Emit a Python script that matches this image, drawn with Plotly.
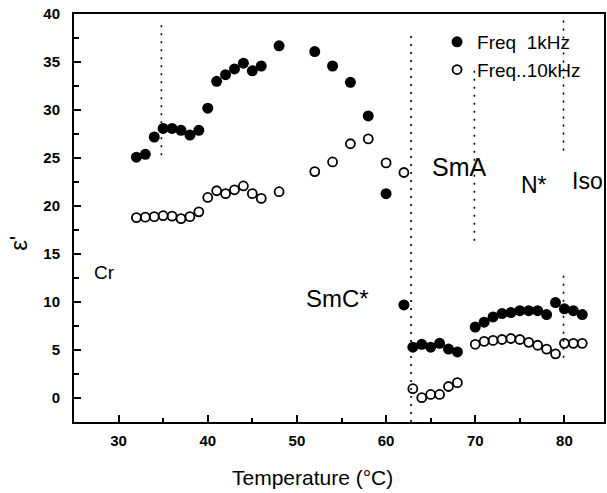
import plotly.graph_objects as go

# ---- data ----
temp_1k = [32, 33, 34, 35, 36, 37, 38, 39, 40, 41, 42, 43, 44, 45, 46, 48, 52, 54, 56, 58, 60, 62,
           63, 64, 65, 66, 67, 68, 70, 71, 72, 73, 74, 75, 76, 77, 78, 79, 80, 81, 82]
eps_1k = [25.1, 25.4, 27.2, 28.1, 28.1, 27.9, 27.4, 27.9, 30.2, 33.0, 33.7, 34.3, 34.9, 34.1, 34.6,
          36.7, 36.1, 34.6, 32.9, 29.4, 21.3, 9.7,
          5.3, 5.6, 5.3, 5.7, 5.1, 4.8, 7.4, 7.9, 8.45, 8.8, 8.9, 9.1, 9.1, 9.1, 8.7, 9.95, 9.3, 9.1, 8.7]

temp_10k = [32, 33, 34, 35, 36, 37, 38, 39, 40, 41, 42, 43, 44, 45, 46, 48, 52, 54, 56, 58, 60, 62,
            63, 64, 65, 66, 67, 68, 70, 71, 72, 73, 74, 75, 76, 77, 78, 79, 80, 81, 82]
eps_10k = [18.8, 18.85, 18.9, 19.0, 18.95, 18.7, 18.9, 19.4, 20.9, 21.6, 21.3, 21.7, 22.1, 21.3, 20.8,
           21.5, 23.6, 24.6, 26.5, 27.0, 24.5, 23.5,
           0.97, 0.03, 0.37, 0.37, 1.2, 1.6, 5.6, 5.9, 6.0, 6.1, 6.2, 6.1, 5.8, 5.5, 5.1, 4.6, 5.7, 5.7, 5.7]

series_names = ["Freq  1kHz", "Freq..10kHz"]

phase_labels = ["Cr", "SmC*", "SmA", "N*"]
phase_label_x = [28.4, 54.6, 68.2, 76.6]
phase_label_y = [13.1, 10.4, 24.1, 22.2]
phase_label_size = [19, 24, 25, 23]
iso_label = "Iso"

# phase boundaries (temperature, y from, y to)
boundary_t = [34.8, 62.8, 69.9, 79.9, 79.9]
boundary_y0 = [25.3, -2.5, 16.4, 25.8, 4.2]
boundary_y1 = [39.4, 38.0, 34.5, 39.4, 12.8]

x_ticks = [30, 40, 50, 60, 70, 80]
y_ticks = [0, 5, 10, 15, 20, 25, 30, 35, 40]

FONT = "Liberation Sans, Arial, sans-serif"

fig = go.Figure()
fig.add_trace(go.Scatter(
    x=temp_1k, y=eps_1k, mode="markers", name=series_names[0],
    marker=dict(symbol="circle", size=11, color="black", line=dict(width=0)),
))
fig.add_trace(go.Scatter(
    x=temp_10k, y=eps_10k, mode="markers", name=series_names[1],
    marker=dict(symbol="circle-open", size=9, color="black", line=dict(width=1.8, color="black")),
))

for t, a, b in zip(boundary_t, boundary_y0, boundary_y1):
    fig.add_shape(type="line", xref="x", yref="y", x0=t, x1=t, y0=a, y1=b,
                  line=dict(color="black", width=1.6, dash="2px,6px"), layer="below")

for txt, lx, ly, sz in zip(phase_labels, phase_label_x, phase_label_y, phase_label_size):
    fig.add_annotation(x=lx, y=ly, xref="x", yref="y", text=txt, showarrow=False,
                       font=dict(family=FONT, size=sz, color="black"))
fig.add_annotation(x=1.0, y=22.6, xref="paper", yref="y", text=iso_label, showarrow=False,
                   xanchor="right", xshift=1,
                   font=dict(family=FONT, size=23, color="black"))

# axis titles
fig.add_annotation(x=51.7, y=-0.135, xref="x", yref="paper", yanchor="middle",
                   text="Temperature (°C)",
                   showarrow=False, font=dict(family=FONT, size=21, color="black"))
fig.add_annotation(x=-0.105, y=16.1, xref="paper", yref="y", xanchor="center", yanchor="middle",
                   text="ε'", textangle=-90,
                   showarrow=False, font=dict(family=FONT, size=24, color="black"))

axis_common = dict(
    showgrid=False, zeroline=False, showline=True, linecolor="black", linewidth=2,
    mirror=True, ticks="inside", tickcolor="black", tickwidth=1.6, ticklen=7,
    tickfont=dict(family=FONT, size=15, color="black", weight="bold"),
    tickmode="linear",
)

fig.update_xaxes(range=[25, 84.44], tick0=x_ticks[0], dtick=x_ticks[1] - x_ticks[0],
                 ticklabelstandoff=4,
                 minor=dict(dtick=5, tick0=25, ticks="inside", ticklen=4, tickwidth=1.5, tickcolor="black"),
                 **axis_common)
fig.update_yaxes(range=[-2.5, 40.02], tick0=y_ticks[0], dtick=y_ticks[1] - y_ticks[0],
                 ticklabelstandoff=9,
                 minor=dict(dtick=2.5, tick0=0, ticks="inside", ticklen=5, tickwidth=1.5, tickcolor="black"),
                 **axis_common)

fig.update_layout(
    width=607, height=493,
    margin=dict(l=74, r=1, t=14, b=71),
    paper_bgcolor="white", plot_bgcolor="white",
    showlegend=True,
    legend=dict(x=0.685, y=0.978, xanchor="left", yanchor="top",
                bgcolor="rgba(0,0,0,0)", borderwidth=0,
                font=dict(family=FONT, size=19, color="black"),
                itemwidth=30, tracegroupgap=0),
    font=dict(family=FONT, color="black"),
)

fig.write_html(
    "out.html",
    config={"displayModeBar": False},
    post_script="document.body.style.margin='0';document.body.style.overflow='hidden';",
)
